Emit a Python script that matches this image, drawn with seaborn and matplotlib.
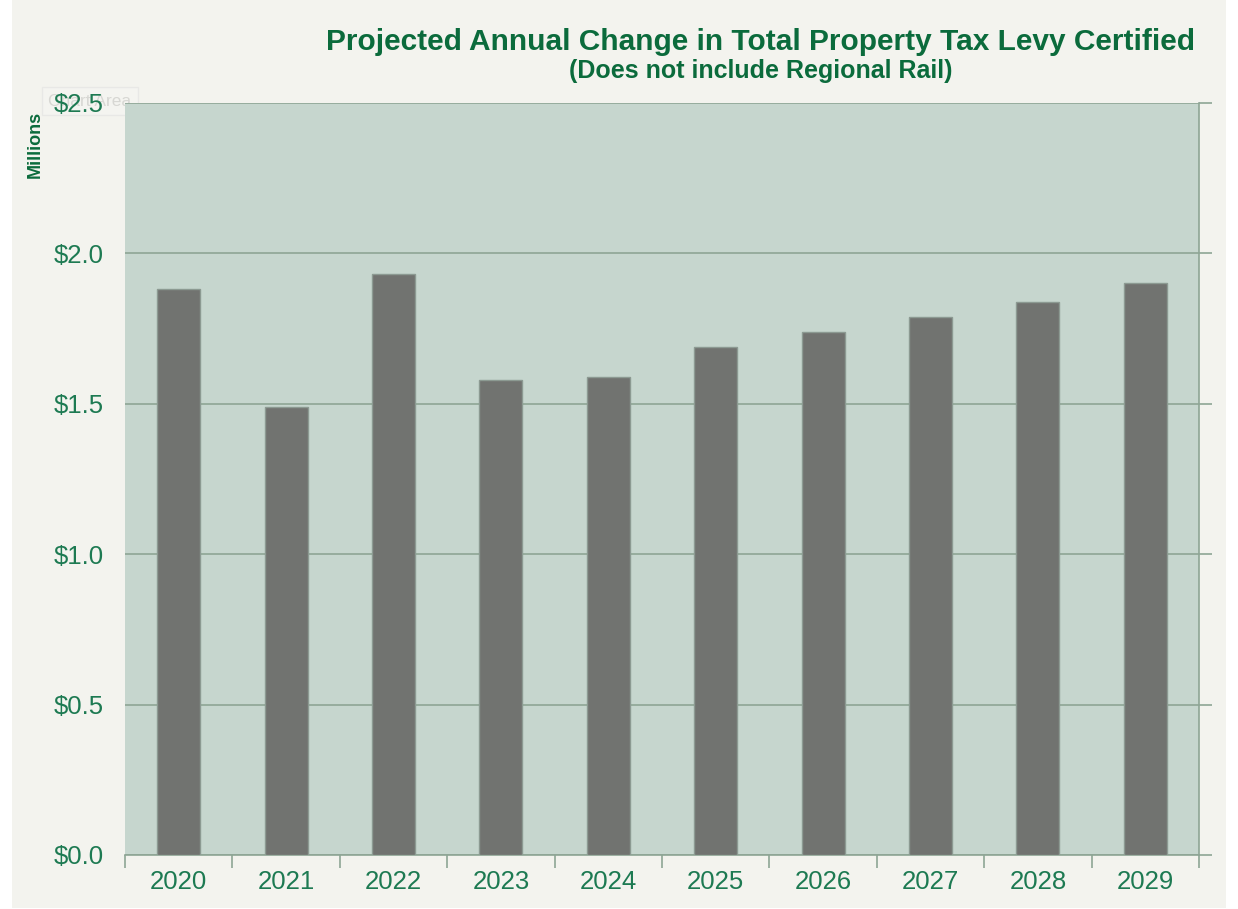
import pandas as pd
import seaborn as sns
import matplotlib.pyplot as plt
from matplotlib.patches import Rectangle
from matplotlib.ticker import FixedLocator, FuncFormatter

# data (millions of dollars)
years = ['2020', '2021', '2022', '2023', '2024', '2025', '2026', '2027', '2028', '2029']
levy_change = [1.88, 1.49, 1.93, 1.58, 1.59, 1.69, 1.74, 1.79, 1.84, 1.90]
y_ticks = [0.0, 0.5, 1.0, 1.5, 2.0, 2.5]

df = pd.DataFrame({'year': years, 'change': levy_change})

# colours
title_green = '#0b6b3c'
label_green = '#1d7a52'
plot_bg = '#c6d6ce'
outer_bg = '#f3f3ee'
bar_grey = '#717370'
grid_col = '#8ea595'

sns.set_style('white')
plt.rcParams['font.family'] = ['Liberation Sans', 'DejaVu Sans']

fig = plt.figure(figsize=(12.38, 9.09), dpi=100)
fig.patch.set_facecolor('white')
bg = Rectangle((12 / 1238, 0.0015), (1226 - 12) / 1238, 1.0,
               transform=fig.transFigure, facecolor=outer_bg, edgecolor='none')
bg.set_zorder(-10)
fig.add_artist(bg)

ax = fig.add_axes([125 / 1238, 1 - 855 / 909, (1199 - 125) / 1238, (855 - 103) / 909])
ax.set_zorder(1)
ax.set_facecolor(plot_bg)

sns.barplot(data=df, x='year', y='change', color=bar_grey, width=0.4,
            edgecolor='#8c9a92', linewidth=1, saturation=1, ax=ax, zorder=3)

ax.set_ylim(0, 2.5)
ax.set_xlim(-0.5, len(years) - 0.5)
ax.yaxis.set_major_locator(FixedLocator(y_ticks))
ax.yaxis.set_major_formatter(FuncFormatter(lambda v, p: f'${v:.1f}'))
ax.grid(axis='y', color=grid_col, linewidth=1.2, zorder=1)
ax.set_axisbelow(True)

# spines: bottom and right only
for s in ['top', 'left']:
    ax.spines[s].set_visible(False)
for s in ['bottom', 'right']:
    ax.spines[s].set_visible(True)
    ax.spines[s].set_color(grid_col)
    ax.spines[s].set_linewidth(1.2)

# y labels on the left, tick marks on the right
ax.tick_params(axis='y', left=False, right=True, labelleft=True, labelright=False,
               direction='out', length=9, color=grid_col, width=1.2,
               labelsize=18.5, labelcolor=label_green, pad=6.5)

# x tick marks between categories
ax.xaxis.set_minor_locator(FixedLocator([i - 0.5 for i in range(len(years) + 1)]))
ax.tick_params(axis='x', which='major', length=0, labelsize=18.5,
               labelcolor=label_green, pad=11)
ax.tick_params(axis='x', which='minor', bottom=True, length=9, direction='out',
               color=grid_col, width=1.2)

ax.set_xlabel('')
ax.set_ylabel('')

fig.text(35 / 1238, 1 - 144 / 909, 'Millions', rotation=90, ha='center', va='center',
         fontsize=13, fontweight='bold', color=title_green)

# titles
fig.text(761 / 1238, 1 - 42 / 909, 'Projected Annual Change in Total Property Tax Levy Certified',
         ha='center', va='center', fontsize=21.5, fontweight='bold', color=title_green)
fig.text(761 / 1238, 1 - 71 / 909, '(Does not include Regional Rail)',
         ha='center', va='center', fontsize=18, fontweight='bold', color=title_green)

# faint leftover tooltip from the original screenshot
fig.text(90 / 1238, 1 - 101 / 909, 'Chart Area', ha='center', va='center', fontsize=12.5,
         color='#d0d0cc', alpha=0.8, zorder=0,
         bbox=dict(boxstyle='square,pad=0.35', facecolor='#f6f6f2', edgecolor='#e2e2e0', alpha=0.6))

fig.savefig('out.png', dpi=100)
